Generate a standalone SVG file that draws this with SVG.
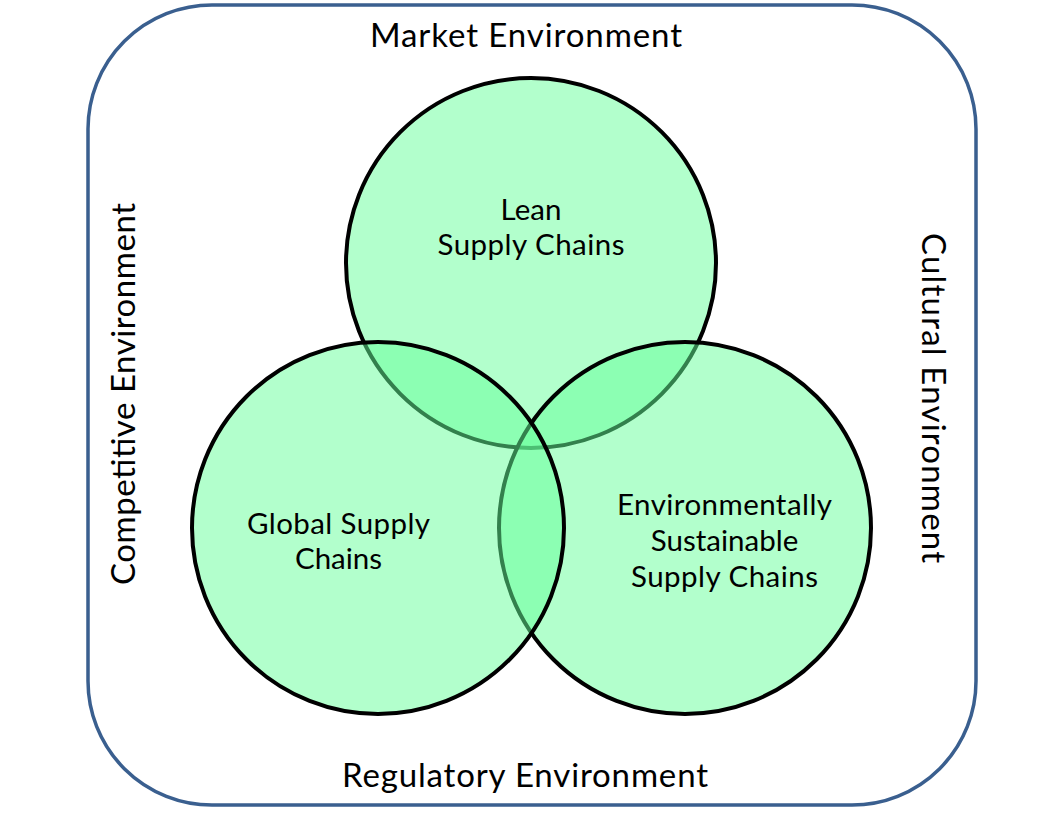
<svg xmlns="http://www.w3.org/2000/svg" width="1062" height="820" viewBox="0 0 1062 820">
  <style>
    .frame { fill: none; stroke: #3a5f8f; stroke-width: 3.5; }
    .circ { fill: #66ff99; fill-opacity: 0.5; stroke: #000; stroke-width: 4; }
    .outer { font-family: Lato, "Open Sans", "Liberation Sans", sans-serif; font-size: 33px; fill: #000; text-anchor: middle; }
    .inner { font-family: Lato, "Open Sans", "Liberation Sans", sans-serif; font-size: 29.5px; fill: #000; text-anchor: middle; }
  </style>
  <rect width="1062" height="820" fill="#fff"/>
  <g id="frame">
    <rect class="frame" x="88" y="5" width="888" height="800" rx="124" ry="124"/>
  </g>
  <g id="labels">
    <text class="outer" x="526" y="47" textLength="312">Market Environment</text>
    <text class="outer" x="525" y="787" textLength="366">Regulatory Environment</text>
    <text class="outer" transform="translate(135,394) rotate(-90)" x="0" y="0" textLength="382">Competitive Environment</text>
    <text class="outer" transform="translate(922,398) rotate(90)" x="0" y="0" textLength="330">Cultural Environment</text>
  </g>
  <g id="lean">
    <circle class="circ" cx="531" cy="263" r="185"/>
  </g>
  <g id="sustainable">
    <circle class="circ" cx="685" cy="528" r="186"/>
  </g>
  <g id="global">
    <circle class="circ" cx="378" cy="528" r="186"/>
  </g>
  <g id="circle-labels">
    <text class="inner" x="531" y="220">Lean</text>
    <text class="inner" x="531" y="255" textLength="187">Supply Chains</text>
    <text class="inner" x="338.5" y="534" textLength="183">Global Supply</text>
    <text class="inner" x="338.5" y="569">Chains</text>
    <text class="inner" x="724.5" y="515" textLength="215">Environmentally</text>
    <text class="inner" x="724.5" y="551">Sustainable</text>
    <text class="inner" x="724.5" y="587" textLength="187">Supply Chains</text>
  </g>
  <g id="connectors"></g>
</svg>
